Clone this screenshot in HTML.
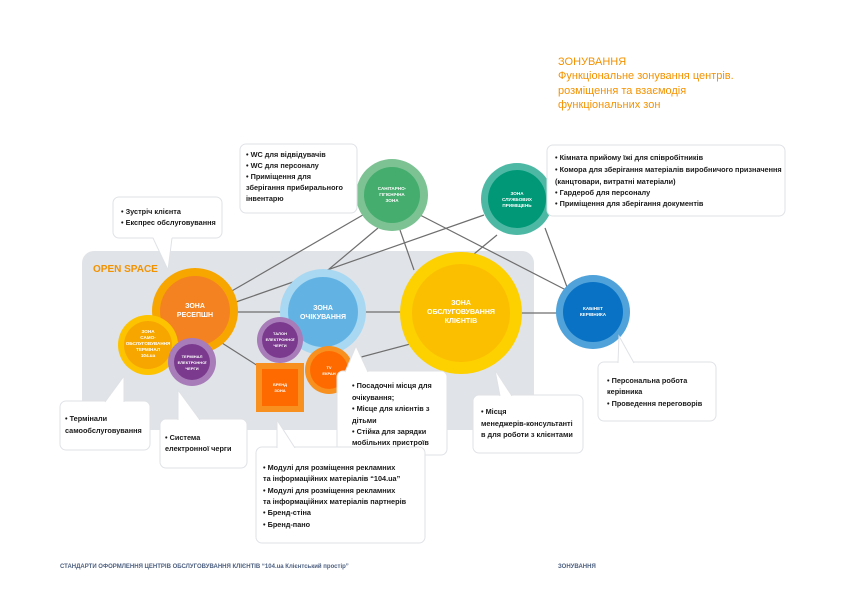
<!DOCTYPE html>
<html><head><meta charset="utf-8"><style>
body{margin:0;background:#fff}
svg{display:block}
text{font-family:"Liberation Sans",sans-serif}
.c{fill:#fff;font-weight:bold;text-anchor:middle}
.t{font-size:7.3px;font-weight:bold;fill:#1a1a1a}
.b{fill:#fff;stroke:#dfe2e6;stroke-width:1}
.l{stroke:#6e6e6e;stroke-width:1.2;fill:none}
</style></head><body>
<svg width="843" height="596" viewBox="0 0 843 596">
<rect x="82" y="251" width="452" height="179" rx="12" fill="#e0e3e7"/>
<text x="93" y="272" font-size="10" font-weight="bold" fill="#f39200">OPEN SPACE</text>
<g class="l">
<line x1="230" y1="292" x2="368" y2="212"/>
<line x1="236" y1="302" x2="484" y2="215"/>
<line x1="236" y1="312" x2="282" y2="312"/>
<line x1="328" y1="270" x2="378" y2="228"/>
<line x1="362" y1="312" x2="402" y2="312"/>
<line x1="520" y1="313" x2="557" y2="313"/>
<line x1="400" y1="230" x2="414" y2="270"/>
<line x1="420" y1="215" x2="566" y2="290"/>
<line x1="497" y1="235" x2="474" y2="254"/>
<line x1="545" y1="228" x2="567" y2="287"/>
<line x1="222" y1="343" x2="258" y2="366"/>
<line x1="350" y1="360" x2="414" y2="343"/>
</g>
<circle cx="195" cy="311" r="43" fill="#f7a600"/><circle cx="195" cy="311" r="35" fill="#f58220"/>
<text class="c" style="font-size:7px" x="195" y="308">ЗОНА</text><text class="c" style="font-size:7px" x="195" y="317">РЕСЕПШН</text>
<circle cx="148" cy="345" r="30" fill="#fdc300"/><circle cx="148" cy="345" r="24" fill="#f7a600"/>
<text class="c" style="font-size:4.6px"><tspan x="148" y="333">ЗОНА</tspan><tspan x="148" y="339">САМО-</tspan><tspan x="148" y="345">ОБСЛУГОВУВАННЯ</tspan><tspan x="148" y="351">ТЕРМІНАЛ</tspan><tspan x="148" y="357">104.ua</tspan></text>
<circle cx="192" cy="362" r="24" fill="#a77cb9"/><circle cx="192" cy="362" r="18" fill="#7b3a8e"/>
<text class="c" style="font-size:4px"><tspan x="192" y="358">ТЕРМІНАЛ</tspan><tspan x="192" y="364">ЕЛЕКТРОННОЇ</tspan><tspan x="192" y="370">ЧЕРГИ</tspan></text>
<circle cx="323" cy="312" r="43" fill="#a8d8f2"/><circle cx="323" cy="312" r="35" fill="#62b3e4"/>
<text class="c" style="font-size:7px" x="323" y="310">ЗОНА</text><text class="c" style="font-size:7px" x="323" y="319">ОЧІКУВАННЯ</text>
<circle cx="280" cy="340" r="23" fill="#a77cb9"/><circle cx="280" cy="340" r="18" fill="#7b3a8e"/>
<text class="c" style="font-size:4px"><tspan x="280" y="335">ТАЛОН</tspan><tspan x="280" y="341">ЕЛЕКТРОННОЇ</tspan><tspan x="280" y="347">ЧЕРГИ</tspan></text>
<rect x="256" y="363" width="48" height="49" fill="#f7901e"/><rect x="262" y="369" width="36" height="37" fill="#ff6a00"/>
<text class="c" style="font-size:4px"><tspan x="280" y="386">БРЕНД</tspan><tspan x="280" y="392">ЗОНА</tspan></text>
<circle cx="329" cy="370" r="24" fill="#f7901e"/><circle cx="329" cy="370" r="19" fill="#ff6a00"/>
<text class="c" style="font-size:4px"><tspan x="329" y="369">TV</tspan><tspan x="329" y="375">ЕКРАН</tspan></text>
<circle cx="392" cy="195" r="36" fill="#7cc293"/><circle cx="392" cy="195" r="28" fill="#45ad6e"/>
<text class="c" style="font-size:4.6px"><tspan x="392" y="190">САНІТАРНО-</tspan><tspan x="392" y="196">ГІГІЄНІЧНА</tspan><tspan x="392" y="202">ЗОНА</tspan></text>
<circle cx="517" cy="199" r="36" fill="#4db9a5"/><circle cx="517" cy="199" r="29" fill="#009877"/>
<text class="c" style="font-size:4.6px"><tspan x="517" y="195">ЗОНА</tspan><tspan x="517" y="201">СЛУЖБОВИХ</tspan><tspan x="517" y="207">ПРИМІЩЕНЬ</tspan></text>
<circle cx="461" cy="313" r="61" fill="#fdd000"/><circle cx="461" cy="313" r="49" fill="#fcbf00"/>
<text class="c" style="font-size:7px"><tspan x="461" y="305">ЗОНА</tspan><tspan x="461" y="314">ОБСЛУГОВУВАННЯ</tspan><tspan x="461" y="323">КЛІЄНТІВ</tspan></text>
<circle cx="593" cy="312" r="37" fill="#4fa2da"/><circle cx="593" cy="312" r="30" fill="#0a72c4"/>
<text class="c" style="font-size:4.6px"><tspan x="593" y="310">КАБІНЕТ</tspan><tspan x="593" y="316">КЕРІВНИКА</tspan></text>
<g>
<rect class="b" x="240" y="144" width="117" height="69" rx="6"/>
<text class="t"><tspan x="246" y="157">• WC для відвідувачів</tspan><tspan x="246" y="168">• WC для персоналу</tspan><tspan x="246" y="179">• Приміщення для</tspan><tspan x="246" y="190">зберігання прибирального</tspan><tspan x="246" y="201">інвентарю</tspan></text>
<rect class="b" x="547" y="145" width="238" height="71" rx="6"/>
<text class="t"><tspan x="555" y="160">• Кімната прийому їжі для співробітників</tspan><tspan x="555" y="172">• Комора для зберігання матеріалів виробничого призначення</tspan><tspan x="555" y="184">(канцтовари, витратні матеріали)</tspan><tspan x="555" y="195">• Гардероб для персоналу</tspan><tspan x="555" y="206">• Приміщення для зберігання документів</tspan></text>
<rect class="b" x="113" y="197" width="109" height="41" rx="6"/>
<polygon points="153,237 172,237 168,270" fill="#fff"/><polyline class="b" fill="none" points="153,238 168,270 172,238"/>
<text class="t"><tspan x="121" y="214">• Зустріч клієнта</tspan><tspan x="121" y="225">• Експрес обслуговування</tspan></text>
<rect class="b" x="60" y="401" width="90" height="49" rx="6"/>
<polygon points="105,402 120,402 124,376" fill="#fff"/><polyline class="b" points="105,402 124,376 124,402" fill="none"/>
<text class="t"><tspan x="65" y="421">• Термінали</tspan><tspan x="65" y="433">самообслуговування</tspan></text>
<rect class="b" x="160" y="419" width="87" height="49" rx="6"/>
<polygon points="178,420 200,420 178,390" fill="#fff"/><polyline class="b" points="178,420 178,390 200,420" fill="none"/>
<text class="t"><tspan x="165" y="440">• Система</tspan><tspan x="165" y="451">електронної черги</tspan></text>
<rect class="b" x="337" y="371" width="110" height="84" rx="6"/>
<polygon points="345,372 368,372 356,346" fill="#fff"/><polyline class="b" points="345,372 356,346 368,372" fill="none"/>
<text class="t"><tspan x="352" y="388">• Посадочні місця для</tspan><tspan x="352" y="400">очікування;</tspan><tspan x="352" y="411">• Місце для клієнтів з</tspan><tspan x="352" y="423">дітьми</tspan><tspan x="352" y="434">• Стійка  для зарядки</tspan><tspan x="352" y="445">мобільних пристроїв</tspan></text>
<rect class="b" x="473" y="395" width="110" height="58" rx="6"/>
<polygon points="500,396 512,396 495,370" fill="#fff"/><polyline class="b" points="500,396 495,370 512,396" fill="none"/>
<text class="t"><tspan x="481" y="414">• Місця</tspan><tspan x="481" y="426">менеджерів-консультанті</tspan><tspan x="481" y="437">в для роботи з клієнтами</tspan></text>
<rect class="b" x="256" y="447" width="169" height="96" rx="6"/>
<polygon points="277,448 295,448 277,420" fill="#fff"/><polyline class="b" points="277,448 277,420 295,448" fill="none"/>
<text class="t"><tspan x="263" y="470">• Модулі для розміщення рекламних</tspan><tspan x="263" y="481">та інформаційних матеріалів “104.ua”</tspan><tspan x="263" y="493">• Модулі для розміщення рекламних</tspan><tspan x="263" y="504">та інформаційних матеріалів партнерів</tspan><tspan x="263" y="515">• Бренд-стіна</tspan><tspan x="263" y="527">• Бренд-пано</tspan></text>
<rect class="b" x="598" y="362" width="118" height="59" rx="6"/>
<polygon points="618,363 634,363 619,336" fill="#fff"/><polyline class="b" points="618,363 619,336 634,363" fill="none"/>
<text class="t"><tspan x="607" y="383">• Персональна робота</tspan><tspan x="607" y="394">керівника</tspan><tspan x="607" y="406">• Проведення переговорів</tspan></text>
</g>
<text font-size="11" fill="#f39200"><tspan x="558" y="65">ЗОНУВАННЯ</tspan><tspan x="558" y="79">Функціональне зонування центрів.</tspan><tspan x="558" y="94">розміщення та взаємодія</tspan><tspan x="558" y="108">функціональних зон</tspan></text>
<text x="60" y="568" font-size="6" font-weight="bold" fill="#4d6080">СТАНДАРТИ ОФОРМЛЕННЯ ЦЕНТРІВ ОБСЛУГОВУВАННЯ КЛІЄНТІВ “104.ua Клієнтський простір”</text>
<text x="558" y="568" font-size="6" font-weight="bold" fill="#4d6080">ЗОНУВАННЯ</text>
</svg>
</body></html>
